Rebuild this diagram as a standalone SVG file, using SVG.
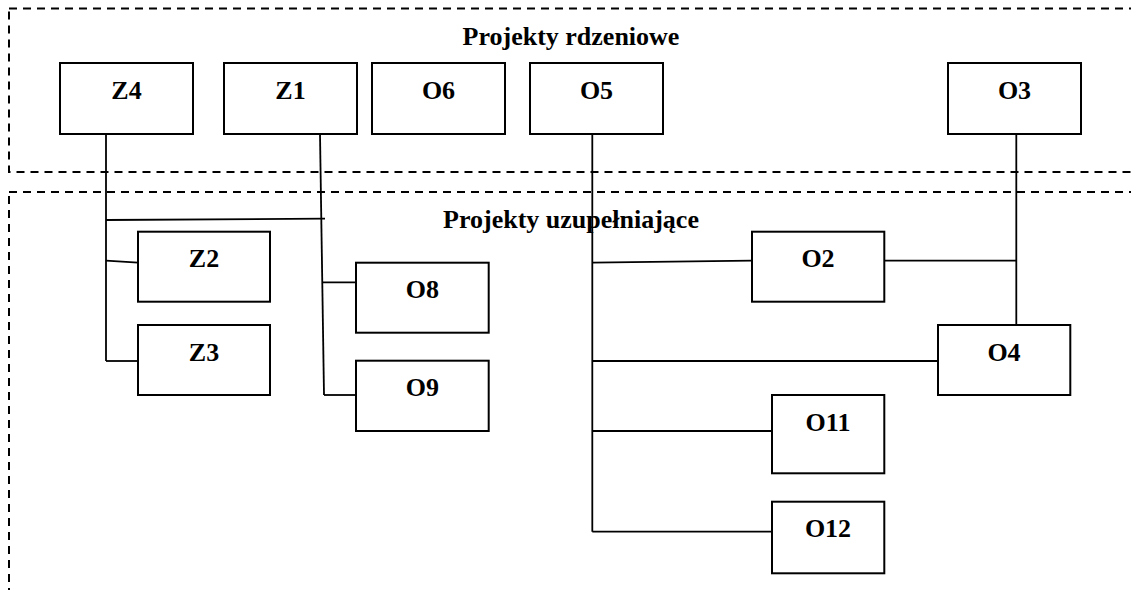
<svg xmlns="http://www.w3.org/2000/svg" width="1131" height="590" viewBox="0 0 1131 590">
<style>
.region{fill:none;stroke:#000;stroke-width:2;stroke-dasharray:8 6}
.box{fill:#fff;stroke:#000;stroke-width:2}
.lbl{font-family:"Liberation Serif","Times New Roman",serif;font-weight:bold;font-size:26px;text-anchor:middle;fill:#000}
.title{font-family:"Liberation Serif","Times New Roman",serif;font-weight:bold;font-size:26px;text-anchor:middle;fill:#000}
.conn line{fill:none;stroke:#000;stroke-width:1.8}
</style>
<rect width="1131" height="590" fill="#fff"/>
<g id="regions">
<rect class="region" x="9" y="8.5" width="1200" height="163.5"/>
<rect class="region" x="9" y="192" width="1200" height="500"/>
<text class="title" x="571" y="45">Projekty rdzeniowe</text>
<text class="title" x="571" y="228">Projekty uzupełniające</text>
</g>
<g class="conn" id="connectors">
<line x1="106" y1="134" x2="106" y2="361"/>
<line x1="106" y1="361" x2="138" y2="361"/>
<line x1="106" y1="220" x2="325" y2="218.7"/>
<line x1="106" y1="260.7" x2="138" y2="262.7"/>
<line x1="320" y1="134" x2="324" y2="395"/>
<line x1="323" y1="282.3" x2="356" y2="282.3"/>
<line x1="324" y1="395" x2="356" y2="395"/>
<line x1="592.3" y1="134" x2="592.3" y2="531.7"/>
<line x1="592.3" y1="262.7" x2="752" y2="260.7"/>
<line x1="884" y1="260.7" x2="1016.3" y2="260.7"/>
<line x1="1016.3" y1="134" x2="1016.3" y2="325"/>
<line x1="592.3" y1="361" x2="938" y2="361"/>
<line x1="592.3" y1="431" x2="772" y2="431"/>
<line x1="592.3" y1="531.7" x2="772" y2="531.7"/>
</g>
<g id="Z4"><rect class="box" x="60" y="63" width="133" height="71"/><text class="lbl" x="126.5" y="99">Z4</text></g>
<g id="Z1"><rect class="box" x="224" y="63" width="133" height="71"/><text class="lbl" x="290.5" y="99">Z1</text></g>
<g id="O6"><rect class="box" x="372" y="63" width="133" height="71"/><text class="lbl" x="438.5" y="99">O6</text></g>
<g id="O5"><rect class="box" x="530" y="63" width="133" height="71"/><text class="lbl" x="596.5" y="99">O5</text></g>
<g id="O3"><rect class="box" x="948" y="63" width="133" height="71"/><text class="lbl" x="1014.5" y="99">O3</text></g>
<g id="Z2"><rect class="box" x="138" y="231.7" width="132" height="70"/><text class="lbl" x="204" y="267">Z2</text></g>
<g id="Z3"><rect class="box" x="138" y="325" width="132" height="70"/><text class="lbl" x="204" y="360.5">Z3</text></g>
<g id="O8"><rect class="box" x="356" y="262.7" width="132.7" height="70"/><text class="lbl" x="422.3" y="298">O8</text></g>
<g id="O9"><rect class="box" x="356" y="360.7" width="132.7" height="70.3"/><text class="lbl" x="422.3" y="396">O9</text></g>
<g id="O2"><rect class="box" x="752" y="231.7" width="132.3" height="70"/><text class="lbl" x="818" y="267">O2</text></g>
<g id="O4"><rect class="box" x="938" y="325" width="132.3" height="70"/><text class="lbl" x="1004" y="360.5">O4</text></g>
<g id="O11"><rect class="box" x="772" y="395" width="112.3" height="78.3"/><text class="lbl" x="828" y="431">O11</text></g>
<g id="O12"><rect class="box" x="772" y="501.7" width="112.3" height="71.6"/><text class="lbl" x="828" y="537">O12</text></g>
</svg>
